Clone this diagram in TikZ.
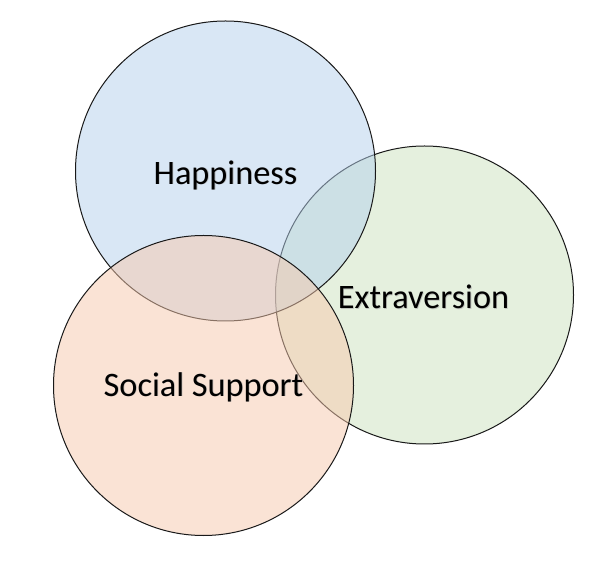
\documentclass[tikz,border=0pt]{standalone}
\usepackage{fontspec}
\setmainfont{Carlito}
\definecolor{cblue}{RGB}{181,209,237}
\definecolor{cgreen}{RGB}{205,227,191}
\definecolor{corange}{RGB}{247,201,173}
\begin{document}
\begin{tikzpicture}[x=1pt,y=1pt,
  set/.style={draw=black!90, line width=1pt, fill opacity=0.5},
  lbl/.style={font=\fontsize{34.3}{38}\selectfont, text=black, inner sep=0pt},
  shd/.style={font=\fontsize{34.3}{38}\selectfont, text=black!35, inner sep=0pt, opacity=0.6}]
\useasboundingbox[fill=white] (0,0) rectangle (605,573);
\coordinate (cg) at (424.5,278);
\coordinate (cb) at (225.5,402);
\coordinate (co) at (203.5,187.5);
\fill[set, fill=cgreen] (cg) circle[radius=149];
\fill[set, fill=cblue] (cb) circle[radius=150];
\fill[set, fill=corange] (co) circle[radius=150];
\node[shd] (hs) at (226.3,397.2) {Happiness};
\node[shd] (es) at (424.3,275.2) {Extraversion};
\node[shd] (ss) at (204.3,185.2) {Social Support};
\node[lbl] (h) at (225.5,398) {Happiness};
\node[lbl] (e) at (423.5,276) {Extraversion};
\node[lbl] (s) at (203.5,186) {Social Support};
\end{tikzpicture}
\end{document}
